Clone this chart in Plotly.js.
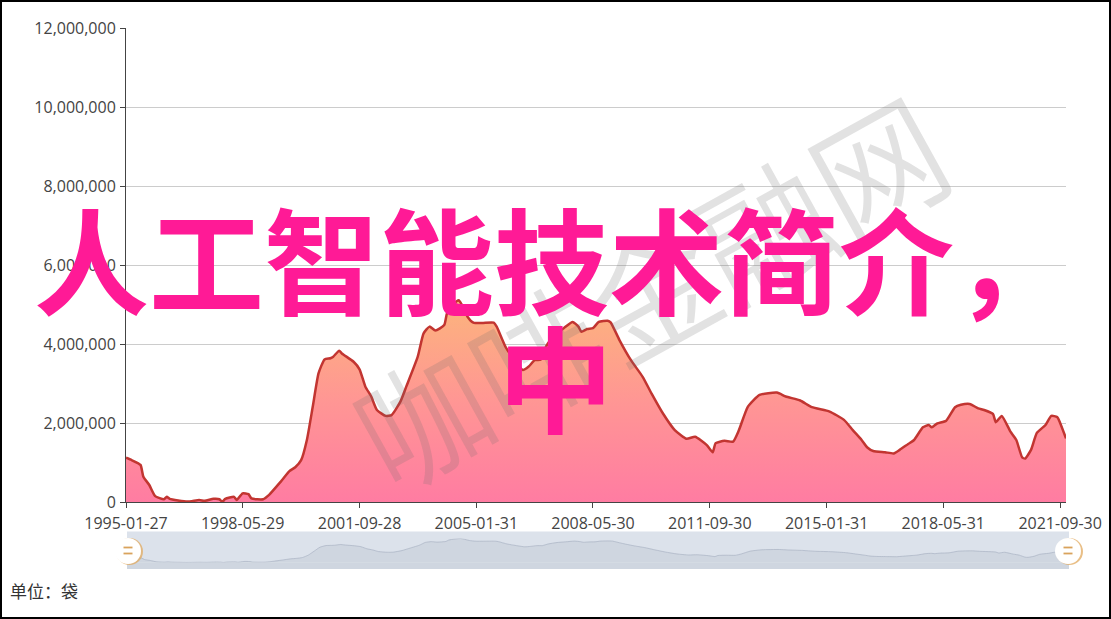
<!DOCTYPE html>
<html><head><meta charset="utf-8">
<script src="https://cdn.plot.ly/plotly-3.0.1.min.js"></script>
<style>html,body{margin:0;padding:0;background:#fff;} #chart{width:1111px;height:619px;}</style>
</head><body><div id="chart"></div>
<script>
// ---- data ----
const months = ['1995-01','1995-03','1995-06','1995-07','1995-09','1995-11','1996-02','1996-03','1996-04','1996-10',
'1997-02','1997-04','1997-07','1997-09','1997-10','1997-11','1998-02','1998-03','1998-05','1998-07','1998-08','1998-12',
'1999-02','1999-06','1999-09','1999-11','2000-01','2000-03','2000-05','2000-07','2000-09','2000-11','2000-12',
'2001-02','2001-03','2001-07','2001-09','2001-11','2002-01','2002-03','2002-06','2002-08','2002-11',
'2003-01','2003-05','2003-07','2003-09','2003-11','2004-02','2004-03','2004-05','2004-07','2004-08','2004-10','2004-12',
'2005-03','2005-07','2005-08','2005-11','2006-03','2006-05','2006-07','2006-09','2006-11',
'2007-01','2007-04','2007-07','2007-10','2007-12','2008-01','2008-03','2008-05','2008-07','2008-10','2008-11',
'2009-02','2009-06','2009-10','2010-01','2010-05','2010-09','2011-01','2011-04','2011-08','2011-10','2011-11',
'2012-02','2012-05','2012-07','2012-10','2013-02','2013-08','2013-11','2014-04','2014-08',
'2015-02','2015-07','2015-10','2016-01','2016-03','2016-05','2016-09','2016-12',
'2017-02','2017-05','2017-07','2017-10','2017-12','2018-01','2018-03','2018-06','2018-09','2018-11',
'2019-02','2019-05','2019-07','2019-10','2019-11','2020-01','2020-04','2020-06','2020-08','2020-09','2020-11',
'2021-01','2021-04','2021-06','2021-08','2021-09','2021-11'];
const volumes = [1120000,1060000,940000,640000,430000,150000,70000,130000,80000,10000,
50000,30000,80000,70000,5000,80000,130000,50000,220000,200000,90000,70000,
180000,510000,780000,880000,1060000,1570000,2410000,3260000,3610000,3640000,3680000,
3830000,3760000,3550000,3360000,2920000,2670000,2330000,2180000,2200000,2540000,
2920000,3680000,4270000,4440000,4340000,4480000,4780000,4990000,5110000,5000000,4690000,4540000,
4530000,4540000,4440000,3930000,3510000,3340000,3430000,3590000,3600000,
3950000,4250000,4400000,4560000,4440000,4310000,4380000,4400000,4560000,4590000,4550000,
4100000,3590000,3170000,2750000,2240000,1820000,1600000,1650000,1440000,1260000,1490000,
1550000,1530000,1820000,2410000,2710000,2770000,2670000,2570000,2400000,
2290000,2080000,1820000,1570000,1380000,1290000,1260000,1230000,
1320000,1470000,1570000,1890000,1950000,1890000,1990000,2060000,2400000,2460000,
2480000,2370000,2330000,2230000,2020000,2180000,1780000,1570000,1130000,1100000,1320000,
1750000,1950000,2180000,2150000,2000000,1610000];
const tickDates = ['1995-01','1998-05','2001-09','2005-01','2008-05','2011-09','2015-01','2018-05','2021-09'];
const tickLabels = ['1995-01-27','1998-05-29','2001-09-28','2005-01-31','2008-05-30','2011-09-30','2015-01-31','2018-05-31','2021-09-30'];
const yTicks = [0,2000000,4000000,6000000,8000000,10000000,12000000];
const titleLine1 = '人工智能技术简介，';
const titleLine2 = '中';
const watermark = '咖啡金融网';
const unitLabel = '单位：袋';

// ---- layout helpers ----
const W = 1111, H = 619;
const px = x => x / W, py = y => (H - y) / H;
const maxV = Math.max(...volumes);
const xRange = [months[0], months[months.length - 1]];
const tickFont = {family: 'Open Sans, sans-serif', size: 16, color: '#444'};
const cjk = 'Noto Sans CJK SC, sans-serif';

const main = {
  x: months, y: volumes, type: 'scatter', mode: 'lines',
  line: {color: '#c23531', width: 2.5, shape: 'spline', smoothing: 0.5},
  fill: 'tozeroy',
  fillgradient: {type: 'vertical', start: 0, stop: maxV,
    colorscale: [[0, 'rgb(255,124,162)'], [0.5, 'rgb(255,150,148)'], [1, 'rgb(252,180,124)']]},
  hoverinfo: 'skip', xaxis: 'x', yaxis: 'y'
};
const mini = {
  x: months, y: volumes, type: 'scatter', mode: 'lines',
  line: {color: 'rgba(165,175,192,0.8)', width: 0.8, shape: 'spline', smoothing: 0.5},
  fill: 'tozeroy', fillcolor: '#cfd6e0', hoverinfo: 'skip', xaxis: 'x2', yaxis: 'y2'
};

function handle(cx) {
  return [
    {type: 'circle', xref: 'paper', yref: 'paper', x0: px(cx - 12), x1: px(cx + 15), y0: py(565), y1: py(538),
     fillcolor: 'rgba(226,170,95,0.75)', line: {width: 0}, layer: 'above'},
    {type: 'circle', xref: 'paper', yref: 'paper', x0: px(cx - 13), x1: px(cx + 13), y0: py(564), y1: py(538),
     fillcolor: '#ffffff', line: {width: 0}, layer: 'above'},
    {type: 'line', xref: 'paper', yref: 'paper', x0: px(cx - 4.5), x1: px(cx + 4.5), y0: py(547.5), y1: py(547.5),
     line: {color: '#d9a35c', width: 1.8}, layer: 'above'},
    {type: 'line', xref: 'paper', yref: 'paper', x0: px(cx - 4.5), x1: px(cx + 4.5), y0: py(553.5), y1: py(553.5),
     line: {color: '#d9a35c', width: 1.8}, layer: 'above'}
  ];
}

const layout = {
  width: W, height: H, autosize: false,
  margin: {l: 0, r: 0, t: 0, b: 0},
  paper_bgcolor: '#ffffff', plot_bgcolor: 'rgba(0,0,0,0)',
  showlegend: false,
  xaxis: {type: 'date', range: xRange, domain: [px(126), px(1066)],
    tickmode: 'array', tickvals: tickDates, ticktext: tickLabels,
    ticks: 'outside', ticklen: 5, tickcolor: '#444', tickwidth: 1,
    showline: true, linecolor: '#444', linewidth: 1, showgrid: false, zeroline: false,
    tickfont: tickFont, ticklabelstandoff: 2, fixedrange: true},
  yaxis: {range: [0, 12000000], domain: [py(502), py(28)],
    tickmode: 'array', tickvals: yTicks, tickformat: ',d',
    ticks: 'outside', ticklen: 5, tickcolor: '#444', tickwidth: 1,
    showline: true, linecolor: '#444', linewidth: 1,
    showgrid: true, gridcolor: '#cccccc', gridwidth: 1, zeroline: false,
    tickfont: tickFont, ticklabelstandoff: 1, fixedrange: true},
  xaxis2: {type: 'date', range: xRange, domain: [px(127), px(1069)], visible: false, anchor: 'y2', fixedrange: true},
  yaxis2: {range: [0, maxV], domain: [py(562.5), py(538.5)], visible: false, anchor: 'x2', fixedrange: true},
  shapes: [
    {type: 'rect', xref: 'paper', yref: 'paper', x0: px(127), x1: px(1069), y0: py(569), y1: py(531.5),
     fillcolor: '#dce2eb', line: {width: 0}, layer: 'below'},
    {type: 'rect', xref: 'paper', yref: 'paper', x0: px(127), x1: px(1069), y0: py(569), y1: py(562.5),
     fillcolor: '#cfd6e0', line: {width: 0}, layer: 'below'},
    ...handle(128), ...handle(1068),
    {type: 'rect', xref: 'paper', yref: 'paper', x0: 0, x1: 1, y0: 0, y1: 1,
     fillcolor: 'rgba(0,0,0,0)', line: {color: '#000', width: 4}, layer: 'above'}
  ],
  annotations: [
    {text: watermark, xref: 'paper', yref: 'paper', x: px(648), y: py(288), xanchor: 'center', yanchor: 'middle',
     showarrow: false, textangle: -29, font: {family: cjk, size: 130, weight: 350, color: 'rgba(110,110,110,0.2)'}},
    {text: titleLine1, xref: 'paper', yref: 'paper', x: px(551), y: py(256), xanchor: 'center', yanchor: 'middle',
     showarrow: false, font: {family: cjk, size: 115, color: '#ff1a96', weight: 700}},
    {text: titleLine2, xref: 'paper', yref: 'paper', x: px(555), y: py(374), xanchor: 'center', yanchor: 'middle',
     showarrow: false, font: {family: cjk, size: 115, color: '#ff1a96', weight: 700}},
    {text: unitLabel, xref: 'paper', yref: 'paper', x: px(8), y: py(590), xanchor: 'left', yanchor: 'middle',
     showarrow: false, font: {family: cjk, size: 17, color: '#333'}}
  ]
};

Plotly.newPlot('chart', [main, mini], layout, {staticPlot: true, displayModeBar: false});
</script>
</body></html>
